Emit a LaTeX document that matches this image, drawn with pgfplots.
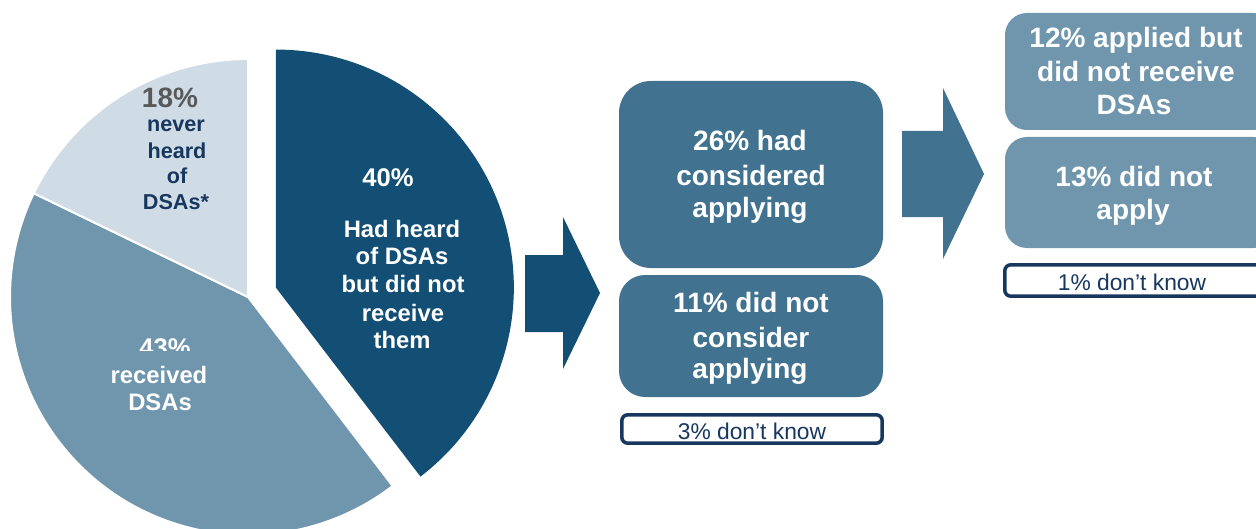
\documentclass[border=0pt]{standalone}
\usepackage{pgfplots}
\pgfplotsset{compat=1.18}
\usepackage{pgfplotstable}
\usepackage{fontspec}
\setmainfont{Liberation Sans}
\definecolor{cdark}{HTML}{134F75}
\definecolor{cmed}{HTML}{7096AE}
\definecolor{clight}{HTML}{CFDCE5}
\definecolor{cbox}{HTML}{41728F}
\definecolor{cnavy}{HTML}{17375E}
\definecolor{cgray}{HTML}{595959}
\newcommand\fpie{\fontsize{11.9}{14}\selectfont\bfseries}
\newcommand\fbig{\fontsize{12.8}{15}\selectfont\bfseries}
\newcommand\feig{\fontsize{14}{16}\selectfont\bfseries}
\newcommand\fnev{\fontsize{10.8}{13}\selectfont\bfseries}
\newcommand\fbx{\fontsize{14}{16.5}\selectfont\bfseries}
\newcommand\fdk{\fontsize{11.4}{13}\selectfont}
\tikzset{t/.style={anchor=base, inner sep=0pt, outer sep=0pt}}

\pgfplotstableread{
label value
heard 40
received 43
never 18
}\piedata

\begin{document}
\begin{tikzpicture}
\pgfplotstablegetelem{0}{value}\of\piedata \let\va\pgfplotsretval
\pgfplotstablegetelem{1}{value}\of\piedata \let\vb\pgfplotsretval
\pgfplotstablegetelem{2}{value}\of\piedata \let\vc\pgfplotsretval
\pgfmathsetmacro\tot{\va+\vb+\vc}
\pgfmathsetmacro\aA{90-360*\va/\tot}
\pgfmathsetmacro\aB{\aA-360*\vb/\tot}
\pgfmathsetmacro\aC{\aB-360*\vc/\tot}
\pgfmathsetmacro\aM{90-180*\va/\tot}
\useasboundingbox (0,0) rectangle (628pt,264.5pt);
\clip (0,0) rectangle (628pt,264.5pt);
\begin{axis}[at={(0,0)}, anchor=south west, x=0.5pt, y=0.5pt,
  xmin=0, xmax=1256, ymin=0, ymax=529, y dir=reverse, hide axis, clip=false]
% pie
\fill[cmed, draw=white, line width=1pt] (axis cs:248,297) -- ++(\aA:119pt) arc[start angle=\aA, end angle=\aB, radius=119pt] -- cycle;
\fill[clight, draw=white, line width=1pt] (axis cs:248,297) -- ++(\aB:119pt) arc[start angle=\aB, end angle=\aC, radius=119pt] -- cycle;
\fill[cdark] (axis cs:248,297) ++(\aM:14.7pt) -- ++(90:119pt) arc[start angle=90, end angle=\aA, radius=119pt] -- cycle;
% pie labels
\node[t, text=white, font=\fbig] at (axis cs:388,187) {40\%};
\node[t, text=white, font=\fpie] at (axis cs:402,237) {Had heard};
\node[t, text=white, font=\fpie] at (axis cs:402,264) {of DSAs};
\node[t, text=white, font=\fpie] at (axis cs:403,292) {but did not};
\node[t, text=white, font=\fpie] at (axis cs:403,321) {receive};
\node[t, text=white, font=\fpie] at (axis cs:402,348) {them};
\node[t, text=cgray, font=\feig] at (axis cs:170,108) {18\%};
\node[t, text=cnavy, font=\fnev] at (axis cs:176,132) {never};
\node[t, text=cnavy, font=\fnev] at (axis cs:177,159) {heard};
\node[t, text=cnavy, font=\fnev] at (axis cs:177,184) {of};
\node[t, text=cnavy, font=\fnev] at (axis cs:176,210) {DSAs*};
\begin{scope}
\clip (axis cs:100,300) rectangle (axis cs:240,350);
\node[t, text=white, font=\fbig] at (axis cs:165,356) {43\%};
\end{scope}
\node[t, text=white, font=\fpie] at (axis cs:159,383) {received};
\node[t, text=white, font=\fpie] at (axis cs:160,410) {DSAs};
% arrows
\fill[cdark] (axis cs:525,255) -- (axis cs:563,255) -- (axis cs:563,217) -- (axis cs:600,293) -- (axis cs:563,369) -- (axis cs:563,332) -- (axis cs:525,332) -- cycle;
\fill[cbox] (axis cs:902,131) -- (axis cs:943,131) -- (axis cs:943,88) -- (axis cs:984,174) -- (axis cs:943,259) -- (axis cs:943,217) -- (axis cs:902,217) -- cycle;
% middle boxes
\fill[cbox, rounded corners=16pt] (axis cs:619,81) rectangle (axis cs:883,268);
\fill[cbox, rounded corners=13pt] (axis cs:619,275) rectangle (axis cs:883,397);
\draw[cnavy, line width=1.75pt, rounded corners=3pt] (axis cs:621.8,414.8) rectangle (axis cs:882.2,443.2);
\node[t, text=white, font=\fbx] at (axis cs:750,151) {26\% had};
\node[t, text=white, font=\fbx] at (axis cs:751,185) {considered};
\node[t, text=white, font=\fbx] at (axis cs:750,217) {applying};
\node[t, text=white, font=\fbx] at (axis cs:751,312) {11\% did not};
\node[t, text=white, font=\fbx] at (axis cs:751,347) {consider};
\node[t, text=white, font=\fbx] at (axis cs:750,378) {applying};
\node[t, text=cnavy, font=\fdk] at (axis cs:752,439) {3\% don’t know};
% right boxes
\fill[cmed, rounded corners=11pt] (axis cs:1005,13) rectangle (axis cs:1275,130);
\fill[cmed, rounded corners=11pt] (axis cs:1005,137) rectangle (axis cs:1275,248);
\draw[cnavy, line width=1.75pt, rounded corners=3pt] (axis cs:1004.8,264.8) rectangle (axis cs:1275,296.2);
\node[t, text=white, font=\fbx] at (axis cs:1136,48) {12\% applied but};
\node[t, text=white, font=\fbx] at (axis cs:1136,82) {did not receive};
\node[t, text=white, font=\fbx] at (axis cs:1134,115) {DSAs};
\node[t, text=white, font=\fbx] at (axis cs:1134,187) {13\% did not};
\node[t, text=white, font=\fbx] at (axis cs:1133,220) {apply};
\node[t, text=cnavy, font=\fdk] at (axis cs:1132,290) {1\% don’t know};
\end{axis}
\end{tikzpicture}
\end{document}
